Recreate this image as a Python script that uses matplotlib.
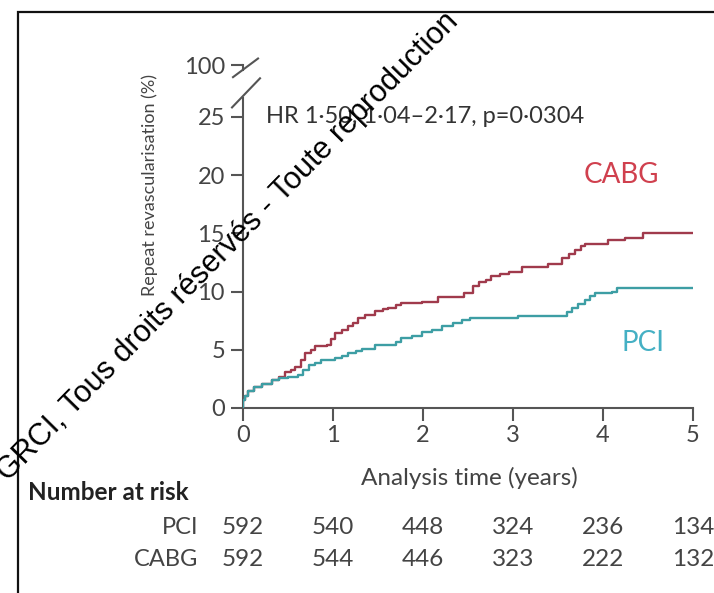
import matplotlib.pyplot as plt
from matplotlib.lines import Line2D
from matplotlib.patches import Rectangle

# Cumulative repeat revascularisation (%)
cabg_t = [0, 0, 0.02, 0.06, 0.12, 0.21, 0.32, 0.40, 0.47, 0.53, 0.58, 0.64, 0.69, 0.75, 0.80,
          0.93, 0.98, 1.02, 1.10, 1.17, 1.22, 1.28, 1.36, 1.47, 1.55, 1.61, 1.70, 1.76, 1.99,
          2.17, 2.45, 2.55, 2.62, 2.70, 2.76, 2.85, 2.95, 3.10, 3.39, 3.54, 3.62, 3.69, 3.75,
          3.80, 4.06, 4.24, 4.44, 5.0]
cabg_y = [0, 0.7, 1.0, 1.5, 1.8, 2.1, 2.4, 2.7, 3.1, 3.3, 3.5, 4.1, 4.7, 5.0, 5.3,
          5.4, 5.9, 6.4, 6.7, 7.0, 7.3, 7.7, 8.0, 8.3, 8.5, 8.6, 8.8, 9.0, 9.1,
          9.55, 9.9, 10.5, 10.8, 11.0, 11.3, 11.5, 11.7, 12.1, 12.4, 12.85, 13.2, 13.6, 13.9,
          14.1, 14.4, 14.6, 15.0, 15.0]

pci_t = [0, 0, 0.02, 0.06, 0.12, 0.21, 0.32, 0.40, 0.50, 0.61, 0.67, 0.73, 0.80, 0.87, 1.02,
         1.10, 1.17, 1.25, 1.32, 1.47, 1.70, 1.76, 1.88, 1.99, 2.10, 2.21, 2.33, 2.43, 2.52,
         3.05, 3.60, 3.65, 3.72, 3.80, 3.86, 3.91, 4.10, 4.15, 5.0]
pci_y = [0, 0.7, 1.0, 1.5, 1.8, 2.1, 2.4, 2.6, 2.7, 2.8, 3.3, 3.7, 3.9, 4.1, 4.3,
         4.5, 4.7, 4.9, 5.1, 5.4, 5.7, 6.0, 6.2, 6.5, 6.7, 7.0, 7.3, 7.55, 7.7,
         7.9, 8.2, 8.55, 8.9, 9.3, 9.6, 9.85, 10.0, 10.3, 10.3]

# Number at risk
risk_times = [0, 1, 2, 3, 4, 5]
risk_pci = [592, 540, 448, 324, 236, 134]
risk_cabg = [592, 544, 446, 323, 222, 132]

y_ticks = [0, 5, 10, 15, 20, 25]
break_pos = 29.4  # where the "100" tick sits above the axis break

W, H = 714, 593
plt.rcParams['font.family'] = ['Lato', 'DejaVu Sans']

fig = plt.figure(figsize=(W / 100, H / 100), dpi=100)
fig.patch.set_facecolor('white')

# Axes placed from pixel positions: x 0..5 -> 243..693 px, y 0 at 408 px
ax = fig.add_axes([243 / W, (H - 408) / H, 450 / W, 349.5 / H])
ax.set_xlim(0, 5)
ax.set_ylim(0, 30)
ax.patch.set_alpha(0)

ax.step(cabg_t, cabg_y, where='post', color='#a03a4c', lw=1.7, zorder=3)
ax.step(pci_t, pci_y, where='post', color='#3d9ea4', lw=1.7, zorder=3)

for s in ['top', 'right']:
    ax.spines[s].set_visible(False)
ax.spines['left'].set_bounds(0, 26.6)
ax.spines['bottom'].set_bounds(0, 5)
for s in ['left', 'bottom']:
    ax.spines[s].set_color('#555555')
    ax.spines[s].set_linewidth(1.5)

ax.set_xticks(risk_times)
ax.set_yticks(y_ticks + [break_pos])
ax.set_yticklabels([str(v) for v in y_ticks] + ['100'])
ax.tick_params(axis='both', direction='out', length=9, width=1.5, color='#555555',
               labelsize=17, labelcolor='#444444')
ax.tick_params(axis='y', pad=4)
ax.tick_params(axis='x', pad=3)

# axis break marks
ax.add_line(Line2D([0, 0], [break_pos, 29.0], color='#555555', lw=1.5, clip_on=False))
ax.add_line(Line2D([-0.111, 0.167], [28.4, 30.0], color='#555555', lw=1.5, clip_on=False))
ax.add_line(Line2D([-0.122, 0.189], [25.8, 28.3], color='#555555', lw=1.5, clip_on=False))

ax.text(0.25, 25, 'HR 1·50, 1·04–2·17, p=0·0304', fontsize=17, color='#333333',
        va='center', ha='left')
ax.text(4.2, 20, 'CABG', fontsize=20, color='#d0404e', va='center', ha='center')
ax.text(4.44, 5.6, 'PCI', fontsize=20, color='#45b0c4', va='center', ha='center')

fig.text(150 / W, 1 - 185 / H, 'Repeat revascularisation (%)', rotation=90,
         fontsize=13, color='#444444', ha='center', va='center')
fig.text(469 / W, 1 - 478 / H, 'Analysis time (years)', fontsize=17.5,
         color='#444444', ha='center', va='center')

# Number at risk table
fig.text(28 / W, 1 - 493 / H, 'Number at risk', fontsize=17.5, fontweight='bold',
         color='#222222', ha='left', va='center')
xt = ax.get_xaxis_transform()
rows = [('PCI', risk_pci, 528), ('CABG', risk_cabg, 559)]
for name, vals, py in rows:
    yy = (408 - py) / 349.5
    fig.text(198 / W, 1 - py / H, name, fontsize=17, color='#444444',
             ha='right', va='center')
    for t, v in zip(risk_times, vals):
        ax.text(t, yy, str(v), transform=xt, fontsize=17.5, color='#444444',
                ha='center', va='center', clip_on=False)

# outer frame
fig.patches.append(Rectangle((18 / W, -0.1), 1.2, 1 - 12 / H + 0.1,
                             transform=fig.transFigure, fill=False,
                             edgecolor='#111111', lw=1.6))

# copyright watermark running diagonally
fig.text(8 / W, 1 - 482 / H,
         'GRCI, Tous droits réservés - Toute reproduction',
         rotation=45.5, rotation_mode='anchor', fontsize=22, color='black',
         family=['Liberation Sans', 'DejaVu Sans'], ha='left', va='baseline')

fig.savefig('out.png', dpi=100)
